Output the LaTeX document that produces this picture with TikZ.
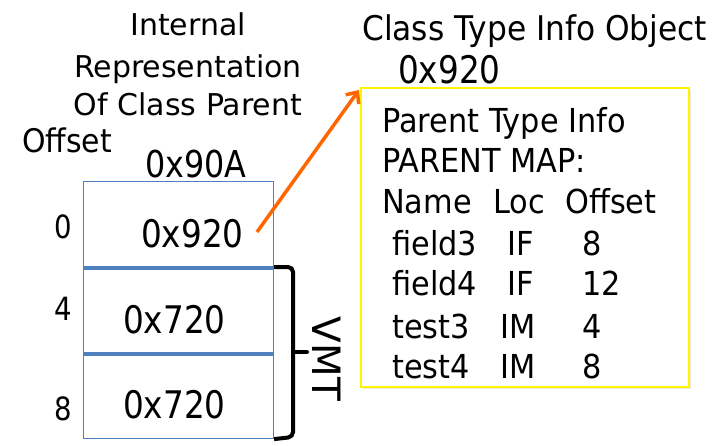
\documentclass[tikz,border=0pt]{standalone}
\usepackage{fontspec}
\setmainfont{DejaVu Sans}
\newfontfamily\nf{DejaVu Sans}[FakeStretch=0.92]
\newfontfamily\vf{DejaVu Sans}[FakeStretch=0.86]
\usetikzlibrary{arrows.meta,shadows}
\definecolor{cellblue}{RGB}{79,129,189}
\definecolor{arrorange}{RGB}{255,102,0}
\definecolor{boxyellow}{RGB}{255,245,0}
\begin{document}
\begin{tikzpicture}[x=1pt,y=-1pt,
  ttl/.style={inner sep=0pt, anchor=base, font=\fontsize{30}{36}\selectfont},
  lbl/.style={inner sep=0pt, anchor=base west, font=\nf\fontsize{33}{40}\selectfont},
  val/.style={inner sep=0pt, anchor=base west, font=\vf\fontsize{38}{44}\selectfont},
  off/.style={inner sep=0pt, anchor=base west, font=\vf\fontsize{32}{36}\selectfont},
  cell/.style={draw=cellblue, line width=1.1pt, inner sep=0pt},
  divider/.style={draw=cellblue, line width=3.5pt},
  brace/.style={draw=black, line width=4pt, rounded corners=5pt},
  ptr/.style={draw=arrorange, line width=3.5pt, -{Straight Barb[length=9pt,width=16pt,line width=3.5pt]}},
  infobox/.style={draw=boxyellow, line width=2pt, fill=white, inner sep=0pt,
     drop shadow={opacity=0.18, shadow xshift=2pt, shadow yshift=-2pt}}
]
\useasboundingbox (0,0) rectangle (723,445);

% title
\node[ttl] (t1) at (188,35) {Internal};
\node[ttl] (t2) at (188,77) {Representation};
\node[ttl] (t3) at (188,115) {Of Class Parent};
\node[lbl, font=\nf\fontsize{32.5}{38}\selectfont] (offh) at (22,152) {Offset};
\node[inner sep=0pt, anchor=base, font=\vf\fontsize{37}{42}\selectfont] (addr) at (196,177) {0x90A};

% memory cells
\node[cell, minimum width=190pt, minimum height=86pt, anchor=north west] (c0) at (83,181) {};
\node[cell, minimum width=190pt, minimum height=86pt, anchor=north west] (c1) at (83,267) {};
\node[cell, minimum width=190pt, minimum height=85pt, anchor=north west] (c2) at (83,353) {};
\draw[divider] (c0.south west) -- (c0.south east);
\draw[divider] (c1.south west) -- (c1.south east);

\node[val] (v0) at (141,247) {0x920};
\node[val] (v1) at (123,333) {0x720};
\node[val] (v2) at (123,418) {0x720};

\node[off] (o0) at (54,238) {0};
\node[off] (o1) at (54,320) {4};
\node[off] (o2) at (54,420) {8};

% brace
\coordinate (bt) at (293,267);
\coordinate (bb) at (293,437);
\coordinate (bm) at (293,352);
\coordinate (btip) at (307,352);
\draw[brace] (c1.north east) -- (bt) -- (bb) -- (c2.south east);
\draw[draw=black, line width=4pt, line cap=round] (bm) -- (btip);
\node[inner sep=0pt, rotate=-90, font=\fontsize{39}{44}\selectfont] (vmt) at (327,359) {VMT};

% class type info object
\node[lbl, font=\nf\fontsize{34}{40}\selectfont] (cti) at (362,40) {Class Type Info Object};
\node[val] (ctiaddr) at (398,83) {0x920};

\node[infobox, minimum width=328pt, minimum height=299pt, anchor=north west] (info) at (360,87) {};

\node[lbl] (l1) at (382,132) {Parent Type Info};
\node[lbl] (l2) at (382,172) {PARENT MAP:};
\node[lbl] (h1) at (382,213) {Name};
\node[lbl] (h2) at (493,213) {Loc};
\node[lbl] (h3) at (565,213) {Offset};
\node[lbl] (r1a) at (392,255) {field3};
\node[lbl] (r1b) at (507,255) {IF};
\node[lbl] (r1c) at (582,255) {8};
\node[lbl] (r2a) at (392,295) {field4};
\node[lbl] (r2b) at (507,295) {IF};
\node[lbl] (r2c) at (582,295) {12};
\node[lbl] (r3a) at (392,338) {test3};
\node[lbl] (r3b) at (500,338) {IM};
\node[lbl] (r3c) at (582,338) {4};
\node[lbl] (r4a) at (392,378) {test4};
\node[lbl] (r4b) at (500,378) {IM};
\node[lbl] (r4c) at (582,378) {8};

% pointer
\coordinate (ps) at (257,232);
\coordinate (pe) at (359,90);
\draw[ptr] (ps) -- (pe);
\end{tikzpicture}
\end{document}
